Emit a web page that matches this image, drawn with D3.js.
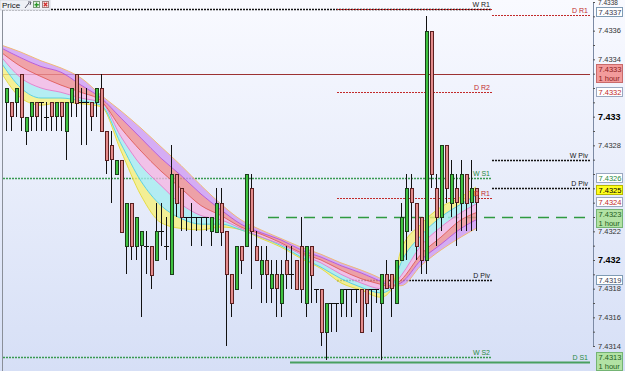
<!DOCTYPE html>
<html>
<head>
<meta charset="utf-8">
<script src="https://cdn.jsdelivr.net/npm/d3@7"></script>
<style>
body { margin: 0; background: #fff; }
svg { display: block; font-family: "Liberation Sans", Arial, sans-serif; }
</style>
</head>
<body>
<svg width="625" height="371"></svg>
<script>
// hourly bars, one per slot
const opens  = [7.4331,7.4331,7.4331,7.4333,7.4329,7.4330,7.4331,7.4331,7.4330,7.4331,
                7.4330,7.4331,7.4329,7.4331,7.4333,7.4331,7.4331,7.4331,7.4331,7.4332,
                7.4329,7.4328,7.4326,7.4327,7.4321,7.4324,7.4321,7.4321,7.4321,7.4321,
                7.4320,7.4322,7.4321,7.4319,7.4326,7.4325,7.4323,7.4323,7.4323,7.4323,
                7.4323,7.4322,7.4322,7.4324,7.4322,7.4319,7.4318,7.4321,7.4321,7.4325,
                7.4321,7.4319,7.4320,7.4318,7.4319,7.4317,7.4320,7.4319,7.4320,7.4321,
                7.4317,7.4321,7.4318,7.4318,7.4315,7.4317,7.4317,7.4317,7.4318,7.4318,
                7.4318,7.4318,7.4318,7.4318,7.4318,7.4317,7.4319,7.4319,7.4317,7.4320,
                7.4322,7.4325,7.4324,7.4323,7.4320,7.4336,7.4325,7.4323,7.4328,7.4324,
                7.4325,7.4324,7.4326,7.4324,7.4325]
const highs  = [7.4332,7.4331,7.4332,7.4333,7.4330,7.4331,7.4331,7.4331,7.4331,7.4331,
                7.4331,7.4331,7.4331,7.4332,7.4333,7.4332,7.4332,7.4331,7.4332,7.4333,
                7.4329,7.4329,7.4327,7.4327,7.4324,7.4324,7.4323,7.4322,7.4322,7.4321,
                7.4324,7.4324,7.4323,7.4328,7.4326,7.4325,7.4323,7.4324,7.4323,7.4323,
                7.4323,7.4323,7.4325,7.4325,7.4322,7.4319,7.4321,7.4321,7.4326,7.4326,
                7.4322,7.4321,7.4321,7.4320,7.4320,7.4320,7.4321,7.4321,7.4320,7.4323,
                7.4321,7.4321,7.4318,7.4318,7.4317,7.4317,7.4317,7.4318,7.4318,7.4318,
                7.4318,7.4318,7.4318,7.4318,7.4318,7.4319,7.4320,7.4319,7.4320,7.4324,
                7.4326,7.4326,7.4324,7.4323,7.4337,7.4336,7.4326,7.4328,7.4328,7.4327,
                7.4326,7.4327,7.4326,7.4327,7.4325]
const lows   = [7.4329,7.4329,7.4330,7.4329,7.4328,7.4329,7.4329,7.4329,7.4329,7.4329,
                7.4329,7.4329,7.4327,7.4330,7.4330,7.4328,7.4328,7.4329,7.4330,7.4329,
                7.4326,7.4324,7.4326,7.4322,7.4319,7.4320,7.4320,7.4316,7.4319,7.4318,
                7.4320,7.4321,7.4320,7.4319,7.4323,7.4322,7.4322,7.4321,7.4322,7.4321,
                7.4322,7.4321,7.4322,7.4321,7.4314,7.4316,7.4318,7.4319,7.4321,7.4318,
                7.4320,7.4317,7.4317,7.4317,7.4316,7.4316,7.4318,7.4318,7.4318,7.4317,
                7.4316,7.4317,7.4317,7.4314,7.4313,7.4315,7.4315,7.4316,7.4316,7.4316,
                7.4317,7.4315,7.4316,7.4315,7.4317,7.4313,7.4318,7.4316,7.4317,7.4320,
                7.4320,7.4322,7.4320,7.4319,7.4319,7.4325,7.4321,7.4322,7.4324,7.4323,
                7.4321,7.4322,7.4322,7.4322,7.4322]
const closes = [7.4332,7.4330,7.4332,7.4330,7.4330,7.4331,7.4330,7.4331,7.4330,7.4330,
                7.4331,7.4330,7.4331,7.4332,7.4331,7.4331,7.4331,7.4330,7.4332,7.4329,
                7.4327,7.4327,7.4327,7.4322,7.4324,7.4321,7.4323,7.4322,7.4321,7.4319,
                7.4322,7.4322,7.4321,7.4326,7.4324,7.4323,7.4323,7.4323,7.4323,7.4323,
                7.4323,7.4323,7.4324,7.4322,7.4319,7.4317,7.4321,7.4320,7.4326,7.4322,
                7.4320,7.4320,7.4319,7.4319,7.4318,7.4319,7.4319,7.4319,7.4318,7.4318,
                7.4321,7.4319,7.4318,7.4315,7.4317,7.4317,7.4317,7.4318,7.4318,7.4318,
                7.4318,7.4315,7.4317,7.4318,7.4318,7.4319,7.4318,7.4318,7.4320,7.4323,
                7.4325,7.4324,7.4321,7.4320,7.4336,7.4326,7.4323,7.4328,7.4325,7.4326,
                7.4324,7.4326,7.4324,7.4325,7.4324]

// moving average ribbon, read at every 4th bar (fast -> slow)
const ribbonBar = [-1,3,7,11,15,19,23,27,31,35,39,43,47,51,55,59,63,67,71,75,77,79,83,87,91,94]
const ema1 = [7.43331,7.43313,7.43308,7.43310,7.43309,7.43307,7.43276,7.43245,7.43226,7.43222,7.43221,7.43223,7.43221,
              7.43215,7.43209,7.43201,7.43194,7.43184,7.43179,7.43174,7.43179,7.43207,7.43225,7.43237,7.43244,7.43251]
const ema2 = [7.43338,7.43320,7.43313,7.43313,7.43311,7.43308,7.43281,7.43255,7.43238,7.43229,7.43225,7.43225,7.43221,
              7.43216,7.43210,7.43202,7.43195,7.43187,7.43181,7.43177,7.43180,7.43198,7.43217,7.43230,7.43239,7.43245]
const ema3 = [7.43342,7.43327,7.43320,7.43317,7.43313,7.43310,7.43286,7.43266,7.43252,7.43239,7.43231,7.43228,7.43222,
              7.43216,7.43211,7.43204,7.43198,7.43190,7.43184,7.43180,7.43181,7.43189,7.43210,7.43223,7.43233,7.43239]
const ema4 = [7.43345,7.43335,7.43328,7.43322,7.43317,7.43311,7.43292,7.43276,7.43262,7.43250,7.43238,7.43231,7.43223,
              7.43218,7.43212,7.43205,7.43200,7.43193,7.43187,7.43183,7.43181,7.43186,7.43204,7.43216,7.43228,7.43233]
const ema5 = [7.43348,7.43341,7.43335,7.43331,7.43322,7.43313,7.43299,7.43285,7.43271,7.43259,7.43246,7.43235,7.43225,
              7.43219,7.43214,7.43207,7.43202,7.43196,7.43191,7.43185,7.43182,7.43184,7.43200,7.43211,7.43222,7.43228]
const ema6 = [7.43350,7.43345,7.43339,7.43334,7.43327,7.43315,7.43304,7.43292,7.43279,7.43266,7.43252,7.43239,7.43228,
              7.43221,7.43215,7.43209,7.43204,7.43198,7.43193,7.43187,7.43183,7.43182,7.43196,7.43207,7.43216,7.43222]

// pivot / alert levels (start and end in bar units)
const levelNames  = ["W R1", "", "D R1", "", "D R2", "W Piv", "W S1", "D Piv", "D R1", "", "D Piv", "W S2", "D S1"]
const levelValues = [7.43375, 7.43375, 7.43371, 7.4333, 7.43317, 7.4327, 7.43257, 7.4325, 7.43243, 7.4323, 7.43186, 7.43132, 7.43129]
const levelFrom   = [-1.2, 66.2, 97.2, -1.2, 66.2, 97.2, -1.2, 97.2, 66.2, 52.4, 66.2, -1.2, 56.8]
const levelTo     = [97.2, 97.2, 116.8, 116.8, 97.2, 116.8, 97.2, 116.8, 97.2, 116.8, 97.2, 97.2, 116.8]
const levelKind   = ["week", "dayRed", "dayRed", "hourRed", "dayRed", "week", "weekGreen", "week", "dayRed", "hourGreen", "week", "weekGreen", "hourGreenSolid"]

// price tags on the axis
const tagText = ["7.4337", "7.4333", "7.4332", "7.4326", "7.4325", "7.4324", "7.4323", "7.4319", "7.4313"]
const tagAt   = [7.43375, 7.4333, 7.43317, 7.43257, 7.4325, 7.43243, 7.4323, 7.43186, 7.43129]
const tagKind = ["plain", "hourRed", "red", "green", "yellow", "red", "hourGreen", "plain", "hourGreen"]

const axisLabels = [7.4338, 7.4336, 7.4334, 7.433, 7.4328, 7.4322, 7.432, 7.4318, 7.4316, 7.4314]
const majorLabels = [7.433, 7.432]

var svg = d3.select("svg"),
    width = 625,
    height = 371,
    plotLeft = 2,
    plotRight = 593

var x = d3.scaleLinear()
          .domain([0, 94])
          .range([6, 476])
var y = d3.scaleLinear()
          .domain([7.4314, 7.4338])
          .range([346, 2])

var defs = svg.append("defs")
var grad = defs.append("linearGradient")
               .attr("id", "bg")
               .attr("x1", 0).attr("y1", 0).attr("x2", 0).attr("y2", 1)
grad.append("stop").attr("offset", "0%").attr("stop-color", "#f9faff")
grad.append("stop").attr("offset", "100%").attr("stop-color", "#d6dff6")

defs.append("clipPath")
    .attr("id", "clip")
    .append("rect")
    .attr("x", plotLeft)
    .attr("y", 0)
    .attr("width", plotRight - plotLeft)
    .attr("height", height)

svg.append("rect")
   .attr("width", width)
   .attr("height", height)
   .attr("fill", "url(#bg)")

var g = svg.append("g").attr("clip-path", "url(#clip)")

// level lines
var levelStyle = {
	week:           { stroke: "#151515", dash: "2,1", w: 1.6, text: "#151515" },
	weekGreen:      { stroke: "#3a9a52", dash: "2,1", w: 1.4, text: "#2a8a42" },
	dayRed:         { stroke: "#c22a2a", dash: "2,1", w: 1.2, text: "#c22a2a" },
	hourRed:        { stroke: "#9c3232", dash: null,  w: 1.2, text: "#9c3232" },
	hourGreen:      { stroke: "#2f9a40", dash: "11,7", w: 1.5, text: "#2a8a42" },
	hourGreenSolid: { stroke: "#48a060", dash: null,  w: 1.8, text: "#2a8a42" }
}

var levels = levelNames.map(function(n, i) {
	return { name: n, v: levelValues[i], from: levelFrom[i], to: levelTo[i], s: levelStyle[levelKind[i]] }
})

g.selectAll(".level")
 .data(levels)
 .enter()
 .append("line")
 .attr("class", "level")
 .attr("x1", function(d) { return x(d.from) })
 .attr("x2", function(d) { return x(d.to) })
 .attr("y1", function(d) { return Math.round(y(d.v)) + 0.5 })
 .attr("y2", function(d) { return Math.round(y(d.v)) + 0.5 })
 .attr("stroke", function(d) { return d.s.stroke })
 .attr("stroke-width", function(d) { return d.s.w })
 .attr("stroke-dasharray", function(d) { return d.s.dash })

// ribbon bands
var emas = [ema1, ema2, ema3, ema4, ema5, ema6]
var bandColors = ["#f6f07c", "#a6ecf0", "#f3b6e4", "#ef8e92", "#cf9cf2"]
var lineColors = ["#e4d83a", "#52cede", "#e27ccc", "#e05a5a", "#b452d6", "#f2b868"]

bandColors.forEach(function(c, k) {
	var lo = emas[k], hi = emas[k + 1]
	var area = d3.area()
	             .x(function(d, j) { return x(ribbonBar[j]) })
	             .y0(function(d, j) { return y(lo[j]) })
	             .y1(function(d, j) { return y(hi[j]) })
	             .curve(d3.curveMonotoneX)
	g.append("path")
	 .datum(ribbonBar)
	 .attr("d", area)
	 .attr("fill", c)
	 .attr("fill-opacity", 0.8)
})

emas.forEach(function(e, k) {
	var line = d3.line()
	             .x(function(d, j) { return x(ribbonBar[j]) })
	             .y(function(d, j) { return y(e[j]) })
	             .curve(d3.curveMonotoneX)
	g.append("path")
	 .datum(ribbonBar)
	 .attr("d", line)
	 .attr("fill", "none")
	 .attr("stroke", lineColors[k])
	 .attr("stroke-width", 0.9)
})

// candles
var bars = d3.range(opens.length)

var cg = g.selectAll(".bar")
          .data(bars)
          .enter()
          .append("g")
          .attr("class", "bar")

cg.append("line")
  .attr("x1", function(i) { return Math.round(x(i)) + 0.5 })
  .attr("x2", function(i) { return Math.round(x(i)) + 0.5 })
  .attr("y1", function(i) { return Math.round(y(highs[i])) })
  .attr("y2", function(i) { return Math.round(y(lows[i])) })
  .attr("stroke", "#111")
  .attr("stroke-width", 1)

cg.filter(function(i) { return opens[i] !== closes[i] })
  .append("rect")
  .attr("x", function(i) { return Math.round(x(i)) - 1 + 0.5 })
  .attr("width", 3)
  .attr("y", function(i) { return Math.round(y(Math.max(opens[i], closes[i]))) + 0.5 })
  .attr("height", function(i) { return Math.round(Math.abs(y(opens[i]) - y(closes[i]))) })
  .attr("fill", function(i) { return closes[i] > opens[i] ? "#3fc23f" : "#e48c8c" })
  .attr("stroke", function(i) { return closes[i] > opens[i] ? "#1b3d1b" : "#5a2020" })
  .attr("stroke-width", 1)

cg.filter(function(i) { return opens[i] === closes[i] })
  .append("line")
  .attr("x1", function(i) { return Math.round(x(i)) - 2 })
  .attr("x2", function(i) { return Math.round(x(i)) + 3 })
  .attr("y1", function(i) { return Math.round(y(opens[i])) + 0.5 })
  .attr("y2", function(i) { return Math.round(y(opens[i])) + 0.5 })
  .attr("stroke", "#111")

// level names
svg.selectAll(".level-name")
   .data(levels.filter(function(d) { return d.name !== "" }))
   .enter()
   .append("text")
   .attr("class", "level-name")
   .attr("x", function(d) { return x(d.to) - 2 })
   .attr("y", function(d) { return Math.round(y(d.v)) - 2 })
   .attr("text-anchor", "end")
   .attr("font-size", 7)
   .attr("fill", function(d) { return d.s.text })
   .text(function(d) { return d.name })

// frame
svg.append("line")
   .attr("x1", plotLeft + 0.5).attr("x2", plotLeft + 0.5)
   .attr("y1", 0).attr("y2", height)
   .attr("stroke", "#8a8f99")

// price axis
var ax = svg.append("g")
            .attr("transform", "translate(" + plotRight + ",0)")

ax.call(d3.axisRight(y)
          .ticks(24)
          .tickSize(2)
          .tickFormat(""))
ax.select(".domain").attr("stroke", "#7c8aa4")
ax.selectAll(".tick line").attr("stroke", "#555")

var fmt = function(v) { return String(+v.toFixed(4)) }

// the top label sits just inside the edge, above the first tag
ax.selectAll(".lab")
  .data(axisLabels)
  .enter()
  .append("text")
  .attr("class", "lab")
  .attr("x", 5)
  .attr("y", function(d) { return y(d) < 6 ? 5.2 : y(d) })
  .attr("dy", function(d) { return y(d) < 6 ? 0 : "0.35em" })
  .attr("font-size", function(d) { return majorLabels.indexOf(d) >= 0 ? 9 : (y(d) < 6 ? 6.5 : 7.5) })
  .attr("font-weight", function(d) { return majorLabels.indexOf(d) >= 0 ? "bold" : "normal" })
  .attr("fill", function(d) { return majorLabels.indexOf(d) >= 0 ? "#000" : "#333" })
  .text(fmt)

// axis tags, pushed apart where they would touch
var tagStyle = {
	plain:     { fill: "#ffffff", stroke: "#7f9bb4", text: "#3a3a50", two: false },
	red:       { fill: "#ffffff", stroke: "#9aa8c0", text: "#c02a2a", two: false },
	green:     { fill: "#ffffff", stroke: "#9aa8c0", text: "#2a8a42", two: false },
	yellow:    { fill: "#ffff1e", stroke: "#b8b800", text: "#000000", two: false },
	hourRed:   { fill: "#f39b9b", stroke: "#c86a6a", text: "#8c1c1c", two: true },
	hourGreen: { fill: "#b2e2a4", stroke: "#74b474", text: "#1e5e22", two: true }
}

var tags = tagText.map(function(t, i) {
	var s = tagStyle[tagKind[i]]
	var h = s.two ? 19 : 10
	return { t: t, v: tagAt[i], s: s, h: h, top: Math.round(y(tagAt[i]) - h / 2) }
})
tags.sort(function(a, b) { return a.top - b.top })
tags.forEach(function(d, i) {
	if (i > 0) d.top = Math.max(d.top, tags[i - 1].top + tags[i - 1].h + 2)
})
tags[0].top = Math.max(tags[0].top, 7)

var tg = svg.selectAll(".tag")
            .data(tags)
            .enter()
            .append("g")
            .attr("class", "tag")
            .attr("transform", function(d) { return "translate(596," + d.top + ")" })

tg.append("rect")
  .attr("x", 0.5)
  .attr("y", 0.5)
  .attr("width", 26)
  .attr("height", function(d) { return d.h - 1 })
  .attr("fill", function(d) { return d.s.fill })
  .attr("stroke", function(d) { return d.s.stroke })

tg.append("text")
  .attr("x", 2.5)
  .attr("y", 8)
  .attr("font-size", 7.5)
  .attr("fill", function(d) { return d.s.text })
  .text(function(d) { return d.t })

tg.filter(function(d) { return d.s.two })
  .append("text")
  .attr("x", 2.5)
  .attr("y", 16.5)
  .attr("font-size", 7.5)
  .attr("fill", function(d) { return d.s.text })
  .text("1 hour")

// panel title
var head = svg.append("g")
head.append("rect")
    .attr("x", 0).attr("y", 0)
    .attr("width", 50).attr("height", 10)
    .attr("fill", "#eef0f6")
    .attr("stroke", "#b8bcc8")
    .attr("stroke-width", 0.5)
head.append("text")
    .attr("x", 2).attr("y", 8)
    .attr("font-size", 8)
    .attr("fill", "#111")
    .text("Price")
head.append("path")
    .attr("d", "M25,8 L29,3 M28,2 L31,2 L30,5")
    .attr("stroke", "#556")
    .attr("fill", "none")
head.append("rect")
    .attr("x", 33.5).attr("y", 1.5).attr("width", 6).attr("height", 6)
    .attr("fill", "#e8f4e8").attr("stroke", "#7a9a7a")
head.append("path")
    .attr("d", "M36.5,2.5 V7 M34.5,4.8 H38.8")
    .attr("stroke", "#2a9a2a").attr("stroke-width", 1.4)
head.append("rect")
    .attr("x", 42.5).attr("y", 1.5).attr("width", 6).attr("height", 6)
    .attr("fill", "#f6e6e6").attr("stroke", "#a08080")
head.append("path")
    .attr("d", "M43.8,2.8 L47.2,6.2 M47.2,2.8 L43.8,6.2")
    .attr("stroke", "#d02a2a").attr("stroke-width", 1.3)
</script>
</body>
</html>
